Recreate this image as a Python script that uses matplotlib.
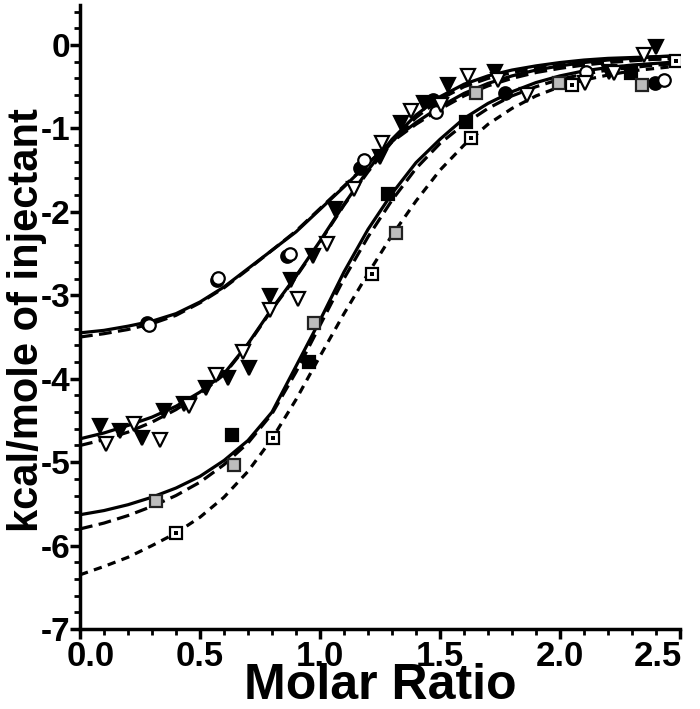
import numpy as np
import matplotlib
matplotlib.use("Agg")
import matplotlib.pyplot as plt
from matplotlib.ticker import MultipleLocator
from matplotlib.transforms import ScaledTranslation

plt.rcParams['font.family'] = ['Liberation Sans', 'DejaVu Sans']
plt.rcParams['font.weight'] = 'bold'

x_fit = [0.0, 0.1, 0.2, 0.3, 0.4, 0.5, 0.6, 0.7, 0.8, 0.9, 1.0, 1.1, 1.2,
         1.3, 1.4, 1.5, 1.6, 1.7, 1.8, 1.9, 2.0, 2.1, 2.2, 2.3, 2.4, 2.5]
circ_solid = [-3.45, -3.42, -3.37, -3.31, -3.22, -3.08, -2.90, -2.68, -2.46, -2.24, -1.97, -1.70, -1.42,
              -1.15, -0.93, -0.74, -0.58, -0.46, -0.37, -0.30, -0.25, -0.21, -0.18, -0.16, -0.14, -0.13]
circ_dash = [-3.50, -3.46, -3.41, -3.34, -3.24, -3.09, -2.91, -2.69, -2.46, -2.23, -1.96, -1.69, -1.42,
             -1.16, -0.95, -0.77, -0.61, -0.49, -0.40, -0.33, -0.28, -0.24, -0.21, -0.19, -0.17, -0.16]
tri_solid = [-4.72, -4.65, -4.56, -4.46, -4.33, -4.16, -3.94, -3.58, -3.16, -2.77, -2.35, -1.91, -1.50,
             -1.13, -0.84, -0.62, -0.47, -0.37, -0.30, -0.25, -0.21, -0.18, -0.16, -0.15, -0.14, -0.13]
tri_dash = [-4.80, -4.73, -4.64, -4.52, -4.37, -4.18, -3.95, -3.59, -3.17, -2.78, -2.36, -1.92, -1.52,
            -1.16, -0.87, -0.65, -0.50, -0.40, -0.33, -0.28, -0.24, -0.21, -0.19, -0.18, -0.17, -0.16]
sq_solid = [-5.63, -5.58, -5.51, -5.42, -5.31, -5.17, -4.98, -4.74, -4.40, -3.85, -3.30, -2.72, -2.21,
            -1.78, -1.41, -1.13, -0.88, -0.70, -0.56, -0.45, -0.37, -0.31, -0.27, -0.24, -0.22, -0.20]
sq_dash = [-5.80, -5.73, -5.64, -5.53, -5.40, -5.24, -5.03, -4.77, -4.42, -3.92, -3.36, -2.80, -2.30,
           -1.86, -1.48, -1.18, -0.95, -0.76, -0.61, -0.50, -0.41, -0.35, -0.30, -0.27, -0.24, -0.22]
sq_dot = [-6.35, -6.25, -6.14, -6.00, -5.85, -5.66, -5.42, -5.11, -4.72, -4.25, -3.73, -3.22, -2.74,
          -2.28, -1.87, -1.50, -1.20, -0.95, -0.76, -0.61, -0.50, -0.42, -0.36, -0.31, -0.28, -0.25]

# data points
circ_open_x = [0.286, 0.577, 0.874, 1.182, 1.483, 2.11, 2.435]
circ_open_y = [-3.36, -2.79, -2.50, -1.38, -0.80, -0.32, -0.42]
circ_fill_x = [0.28, 0.57, 0.863, 1.168, 1.469, 1.77, 2.394]
circ_fill_y = [-3.33, -2.82, -2.53, -1.48, -0.66, -0.58, -0.46]

tri_fill_x = [0.083, 0.167, 0.258, 0.349, 0.433, 0.524, 0.615, 0.703, 0.79, 0.881, 0.972, 1.063,
              1.252, 1.336, 1.434, 1.532, 1.728, 2.204, 2.40]
tri_fill_y = [-4.57, -4.63, -4.71, -4.39, -4.30, -4.11, -3.99, -3.87, -3.01, -2.82, -2.53, -1.97,
              -1.34, -0.93, -0.70, -0.48, -0.32, -0.32, -0.02]
tri_open_x = [0.11, 0.223, 0.335, 0.454, 0.566, 0.678, 0.793, 0.909, 1.028, 1.14, 1.259, 1.378,
              1.504, 1.616, 1.742, 1.861, 2.106, 2.226, 2.35]
tri_open_y = [-4.78, -4.54, -4.73, -4.33, -3.96, -3.68, -3.18, -3.04, -2.38, -1.73, -1.17, -0.79,
              -0.72, -0.37, -0.42, -0.60, -0.46, -0.34, -0.12]

sq_fill_x = [0.632, 0.955, 1.283, 1.609, 2.295]
sq_fill_y = [-4.68, -3.80, -1.79, -0.92, -0.34]
sq_gray_x = [0.316, 0.643, 0.975, 1.315, 1.649, 1.994, 2.342]
sq_gray_y = [-5.46, -5.03, -3.33, -2.25, -0.58, -0.46, -0.48]
sq_open_x = [0.399, 0.804, 1.217, 1.63, 2.05, 2.485]
sq_open_y = [-5.85, -4.71, -2.74, -1.12, -0.48, -0.19]

x_ticks = [0.0, 0.5, 1.0, 1.5, 2.0, 2.5]
x_ticklabels = ['0.0', '0.5', '1.0', '1.5', '2.0', '2.5']
y_ticks = [0, -1, -2, -3, -4, -5, -6, -7]
y_ticklabels = ['0', '-1', '-2', '-3', '-4', '-5', '-6', '-7']

fig = plt.figure(figsize=(7.0, 7.09), dpi=100)
ax = fig.add_axes([0.1143, 0.1128, 0.8571, 0.8802])

lw = 2.3
ax.plot(x_fit, circ_solid, color='black', lw=lw)
ax.plot(x_fit, circ_dash, color='black', lw=lw, dashes=[4, 2])
ax.plot(x_fit, tri_solid, color='black', lw=lw)
ax.plot(x_fit, tri_dash, color='black', lw=lw, dashes=[4, 2])
ax.plot(x_fit, sq_solid, color='black', lw=lw)
ax.plot(x_fit, sq_dash, color='black', lw=lw, dashes=[4, 2])
ax.plot(x_fit, sq_dot, color='black', lw=lw, dashes=[2.6, 2])

ms = 9
mew = 1.6
ax.plot(circ_fill_x, circ_fill_y, 'o', ms=ms, mfc='black', mec='black', mew=mew)
ax.plot(circ_open_x, circ_open_y, 'o', ms=ms, mfc='white', mec='black', mew=mew)
ax.plot(tri_fill_x, tri_fill_y, 'v', ms=ms + 1, mfc='black', mec='black', mew=mew)
ax.plot(tri_open_x, tri_open_y, 'v', ms=ms + 1, mfc='white', mec='black', mew=mew)
ax.plot(sq_fill_x, sq_fill_y, 's', ms=ms - 1, mfc='black', mec='black', mew=mew)
ax.plot(sq_gray_x, sq_gray_y, 's', ms=ms - 1, mfc='#bdbdbd', mec='#222222', mew=mew)
ax.plot(sq_open_x, sq_open_y, 's', ms=ms - 1, mfc='white', mec='black', mew=mew)
ax.plot(sq_open_x, sq_open_y, 's', ms=3, mfc='black', mec='black', mew=0)

ax.set_xlim(0, 2.5)
ax.set_ylim(-7, 0.48)
ax.spines['top'].set_visible(False)
ax.spines['right'].set_visible(False)
ax.spines['left'].set_linewidth(2.5)
ax.spines['bottom'].set_linewidth(2.5)

ax.xaxis.set_minor_locator(MultipleLocator(0.1))
ax.yaxis.set_minor_locator(MultipleLocator(0.2))
ax.set_xticks(x_ticks)
ax.set_xticklabels(x_ticklabels)
ax.set_yticks(y_ticks)
ax.set_yticklabels(y_ticklabels)
ax.tick_params(which='major', direction='out', length=7, width=2.5)
ax.tick_params(axis='x', which='major', labelsize=25, pad=1)
ax.tick_params(axis='y', which='major', labelsize=24, pad=0)
ax.tick_params(which='minor', direction='out', length=4, width=2)

# end labels nudged inwards like the original
labs = ax.get_xticklabels()
labs[0].set_transform(labs[0].get_transform() + ScaledTranslation(8 / 72, 0, fig.dpi_scale_trans))
labs[-1].set_transform(labs[-1].get_transform() + ScaledTranslation(-16 / 72, 0, fig.dpi_scale_trans))

ax.set_xlabel('Molar Ratio', fontsize=36, fontweight='bold', labelpad=-7)
ax.set_ylabel('kcal/mole of injectant', fontsize=30, fontweight='bold')
ax.yaxis.set_label_coords(-0.055, 0.495)

fig.savefig('out.png', dpi=100)
